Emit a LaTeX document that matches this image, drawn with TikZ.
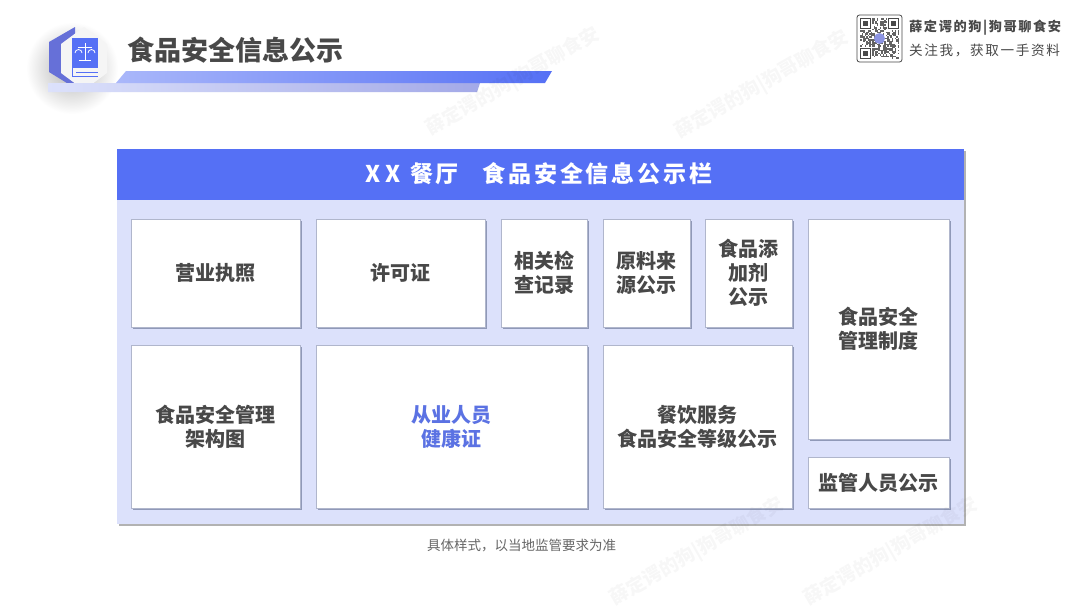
\documentclass[tikz,border=0pt]{standalone}
\usepackage{fontspec}
\setmainfont{Noto Sans CJK SC}
\newfontfamily\widefont[LetterSpace=12]{Noto Sans CJK SC}
\definecolor{headblue}{HTML}{5570F5}
\definecolor{panelblue}{HTML}{DCE1FB}
\definecolor{inkgray}{HTML}{484848}
\definecolor{edgegray}{HTML}{B0B6CC}
\definecolor{shadegray}{HTML}{7E87A8}
\definecolor{hexblue}{HTML}{6670D8}
\usetikzlibrary{shadows,positioning}
\tikzset{
    noticebox/.style={draw=edgegray,line width=0.5pt,fill=white,inner sep=0pt,align=center,
      text=inkgray,font=\fontsize{20}{24}\selectfont\bfseries,
      drop shadow={shadow xshift=1.6pt,shadow yshift=-1.8pt,fill=shadegray,opacity=0.8}},
    wmark/.style={rotate=30,text=black,opacity=0.03,font=\fontsize{19}{19}\selectfont\bfseries}
}

\begin{document}
\begin{tikzpicture}[x=1pt,y=-1pt]
    \useasboundingbox (0,0) rectangle (1080,608);
    \fill[white] (0,0) rectangle (1080,608);

    % Icon with its soft shadow
    \shade[inner color=black!30,outer color=white,draw=none] (72,68) circle (46);
    \fill[hexblue] (75,27) -- (49,42) -- (49,72) -- (75,88) -- cycle;
    \fill[white!92!gray] (84,27) -- (107,44) -- (107,73) -- (84,90) -- (61,73) -- (61,44) -- cycle;
    \fill[headblue] (72,38) rectangle (98,68);
    \draw[headblue,line width=1pt] (72,68) -- (72,76) -- (98,76);
    \draw[headblue,line width=1pt] (76,72) -- (98,72);
    \draw[white,line width=0.8pt] (85,43) -- (85,60) (79,60) -- (91,60) (78,47) -- (92,47);
    \draw[white,line width=0.8pt] (75,53) arc (180:360:3.5) (88,53) arc (180:360:3.5);

    % Title and its two bars
    \node[anchor=west,inner sep=0pt,text=inkgray,font=\fontsize{27}{27}\selectfont\bfseries] (title) at (127,50) {食品安全信息公示};
    \shade[left color=panelblue,right color=hexblue!60!white] (48,83) -- (480,83) -- (477,92) -- (48,92) -- cycle;
    \shade[left color=headblue!50!white,right color=headblue] (126,71) -- (552,71) -- (545,83) -- (116,83) -- cycle;

    % QR code at the top right
    \draw[inkgray,line width=0.8pt,rounded corners=2.5pt] (857,15) rectangle (902,62);
    \pgfmathsetseed{17}
    \foreach \i in {0,...,25}{
      \foreach \j in {0,...,26}{
        \pgfmathparse{rnd>0.52?1:0}
        \ifnum\pgfmathresult=1
          \fill[inkgray!85] (860+1.5*\i,18+1.5*\j) rectangle ++(1.5,1.5);
        \fi
      }
    }
    \foreach \qx/\qy in {860/18,888/18,860/48}{
      \fill[white] (\qx-0.6,\qy-0.6) rectangle ++(12.2,12.2);
      \draw[inkgray,line width=1.3pt] (\qx+0.65,\qy+0.65) rectangle ++(9.7,9.7);
      \fill[inkgray] (\qx+3,\qy+3) rectangle ++(5,5);
    }
    \fill[hexblue!75!white] (879.5,38.5) circle (5.5);
    \node[anchor=west,inner sep=0pt,text=inkgray,font=\fontsize{13.2}{14}\selectfont\bfseries\widefont] (qrname) at (909,28) {薛定谔的狗|狗哥聊食安};
    \node[anchor=west,inner sep=0pt,text=inkgray,font=\fontsize{13.6}{14}\selectfont\widefont] (qrhint) at (909,50) {关注我，获取一手资料};

    % Board with its heading
    \fill[black!30,xshift=1.5pt,yshift=-1.5pt] (117,149) rectangle (964,524);
    \fill[panelblue] (117,149) rectangle (964,524);
    \fill[headblue] (117,149) rectangle (964,200);
    \node[inner sep=0pt,text=white,font=\fontsize{23}{24}\selectfont\bfseries\widefont] (board) at (539,174) {X\hspace{4pt}X\hspace{10pt}餐厅\hspace{24pt}食品安全信息公示栏};

    % Upper row
    \node[noticebox,minimum width=169pt,minimum height=108pt] (licence) at (215.5,273) {营业执照};
    \node[noticebox,minimum width=169pt,minimum height=108pt] (permit) at (400.5,273) {许可证};
    \node[noticebox,minimum width=86pt,minimum height=108pt] (records) at (544,273) {相关检\\查记录};
    \node[noticebox,minimum width=87pt,minimum height=108pt] (source) at (646.5,273) {原料来\\源公示};
    \node[noticebox,minimum width=87pt,minimum height=108pt] (additive) at (748.5,273) {食品添\\加剂\\公示};

    % Lower row
    \node[noticebox,minimum width=169pt,minimum height=163pt] (chart) at (215.5,426.5) {食品安全管理\\架构图};
    \node[noticebox,minimum width=271pt,minimum height=163pt,text=headblue!85!gray] (health) at (451.5,426.5) {从业人员\\健康证};
    \node[noticebox,minimum width=189pt,minimum height=163pt] (grade) at (697.5,426.5) {餐饮服务\\食品安全等级公示};

    % Right column
    \node[noticebox,minimum width=141pt,minimum height=220pt] (rules) at (878.5,329) {食品安全\\管理制度};
    \node[noticebox,minimum width=141pt,minimum height=51pt] (staff) at (878.5,482.5) {监管人员公示};

    \node[text=black!60,inner sep=0pt,font=\fontsize{13.5}{14}\selectfont] (note) at (521.5,546) {具体样式，以当地监管要求为准};

    % Faint marks in the clear margins
    \foreach \wx/\wy [count=\wn] in {513/82,762/85,697/552,891/552}{
      \node[wmark] (wm\wn) at (\wx,\wy) {薛定谔的狗|狗哥聊食安};
    }
\end{tikzpicture}
\end{document}
